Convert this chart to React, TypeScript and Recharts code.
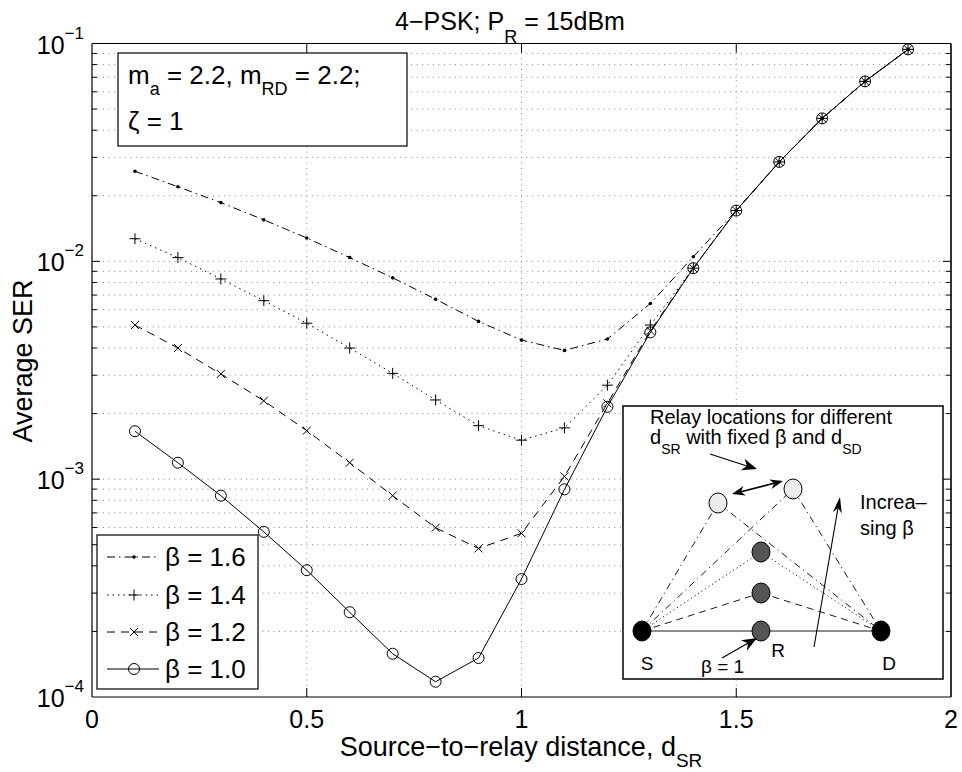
import React from "react";
import { LineChart, Line, XAxis, YAxis, ReferenceLine } from "recharts";

// source-to-relay distance d_SR
const DSR = [0.1, 0.2, 0.3, 0.4, 0.5, 0.6, 0.7, 0.8, 0.9, 1.0, 1.1, 1.2, 1.3, 1.4, 1.5, 1.6, 1.7, 1.8, 1.9];

// average SER per beta
const SER_B16 = [0.0259, 0.022, 0.0186, 0.0155, 0.0128, 0.0104, 0.0084, 0.0067, 0.0053, 0.00435, 0.0039, 0.0044, 0.0064, 0.0105, 0.0171, 0.0286, 0.0453, 0.067, 0.094];
const SER_B14 = [0.0127, 0.0104, 0.0083, 0.0066, 0.0052, 0.004, 0.00306, 0.00231, 0.00176, 0.00151, 0.00172, 0.0027, 0.0051, 0.0093, 0.0171, 0.0286, 0.0453, 0.067, 0.094];
const SER_B12 = [0.0051, 0.004, 0.00304, 0.00229, 0.00167, 0.00119, 0.00084, 0.000598, 0.000481, 0.000564, 0.00103, 0.00223, 0.0048, 0.0093, 0.0171, 0.0286, 0.0453, 0.067, 0.094];
const SER_B10 = [0.00166, 0.00119, 0.00084, 0.000573, 0.000382, 0.000245, 0.000158, 0.0001175, 0.000151, 0.000348, 0.000898, 0.00215, 0.00472, 0.0093, 0.0171, 0.0286, 0.0453, 0.067, 0.094];

const X_TICKS = [0, 0.5, 1, 1.5, 2];
const X_GRID = [0.5, 1, 1.5];
const Y_TICKS = [1e-4, 1e-3, 1e-2, 1e-1];
const Y_MAJOR_INNER = [1e-3, 1e-2];
const Y_MINOR = [
  2e-4, 3e-4, 4e-4, 5e-4, 6e-4, 7e-4, 8e-4, 9e-4,
  2e-3, 3e-3, 4e-3, 5e-3, 6e-3, 7e-3, 8e-3, 9e-3,
  2e-2, 3e-2, 4e-2, 5e-2, 6e-2, 7e-2, 8e-2, 9e-2,
];
const LEGEND_LABELS = ["β = 1.6", "β = 1.4", "β = 1.2", "β = 1.0"];

const data = DSR.map((d, i) => ({ d, b16: SER_B16[i], b14: SER_B14[i], b12: SER_B12[i], b10: SER_B10[i] }));

const FONT = "'Liberation Sans', Arial, Helvetica, sans-serif";
const GRID = "#8a8a8a";

type Mk = "dot" | "plus" | "x" | "o";

function marker(kind: Mk, cx: number, cy: number, key?: string) {
  if (kind === "dot") return <circle key={key} cx={cx} cy={cy} r={1.8} fill="#000" />;
  if (kind === "plus")
    return <path key={key} d={`M${cx - 5.5},${cy}H${cx + 5.5}M${cx},${cy - 5.5}V${cy + 5.5}`} stroke="#000" strokeWidth={1} fill="none" />;
  if (kind === "x")
    return <path key={key} d={`M${cx - 4},${cy - 4}L${cx + 4},${cy + 4}M${cx - 4},${cy + 4}L${cx + 4},${cy - 4}`} stroke="#000" strokeWidth={1} fill="none" />;
  return <circle key={key} cx={cx} cy={cy} r={5.5} fill="none" stroke="#000" strokeWidth={1} />;
}

const SERIES: { key: string; mk: Mk; dash?: string }[] = [
  { key: "b16", mk: "dot", dash: "8 4 1.5 4" },
  { key: "b14", mk: "plus", dash: "1.5 4" },
  { key: "b12", mk: "x", dash: "8 6" },
  { key: "b10", mk: "o" },
];

const YTick = (p: any) => {
  const exp = Math.round(Math.log10(p.payload.value));
  return (
    <text x={p.x} y={p.y + 10} textAnchor="end" fontSize={25} fontFamily={FONT} fill="#000">
      10
      <tspan dy={-15} fontSize={17}>{`−${-exp}`}</tspan>
    </text>
  );
};

const XTick = (p: any) => (
  <text x={p.x} y={p.y + 31} textAnchor="middle" fontSize={25} fontFamily={FONT} fill="#000">
    {String(p.payload.value)}
  </text>
);

function head(x1: number, y1: number, x2: number, y2: number, len = 15, w = 6) {
  const a = Math.atan2(y2 - y1, x2 - x1);
  const c = Math.cos(a), s = Math.sin(a);
  const bx = x2 - len * c, by = y2 - len * s;
  const mx = x2 - len * 0.7 * c, my = y2 - len * 0.7 * s;
  return `${x2},${y2} ${bx - s * w},${by + c * w} ${mx},${my} ${bx + s * w},${by - c * w}`;
}

function Inset() {
  const S = [642, 631], D = [881, 631], R = [761, 631];
  const n12 = [761, 593], n14 = [761, 552], n16a = [718, 503], n16b = [793, 489];
  const seg = (a: number[], b: number[], dash?: string, w = 0.9) => (
    <path d={`M${a[0]},${a[1]}L${b[0]},${b[1]}`} stroke="#000" strokeWidth={w} strokeDasharray={dash} fill="none" />
  );
  return (
    <g fontFamily={FONT} fill="#000">
      <rect x={623} y={406} width={320} height={273} fill="#fff" stroke="#000" strokeWidth={1.5} />
      <text x={650} y={424} fontSize={20}>Relay locations for different</text>
      <text x={650} y={444} fontSize={20}>
        d<tspan dy={10} fontSize={14}>SR</tspan>
        <tspan dy={-10}> with fixed β and d</tspan>
        <tspan dy={10} fontSize={14}>SD</tspan>
      </text>
      {seg([710, 454], [750, 467], undefined, 1.2)}
      <polygon points={head(710, 454, 757, 469)} fill="#000" />
      {seg([740, 492], [775, 483], undefined, 1.6)}
      <polygon points={head(775, 483, 732, 494, 13, 5)} fill="#000" />
      <polygon points={head(740, 492, 783, 481, 13, 5)} fill="#000" />
      {seg(S, D)}
      {seg(S, n12, "7 5")}
      {seg(n12, D, "7 5")}
      {seg(S, n14, "1.2 3")}
      {seg(n14, D, "1.2 3")}
      {seg(S, n16a, "7 4 1.2 4")}
      {seg(n16a, D, "7 4 1.2 4")}
      {seg(S, n16b, "7 4 1.2 4")}
      {seg(n16b, D, "7 4 1.2 4")}
      {seg([814, 647], [838, 508], undefined, 1.1)}
      <polygon points={head(814, 647, 840, 497, 16, 4.5)} fill="#000" />
      <ellipse cx={S[0]} cy={S[1]} rx={9} ry={10} fill="#000" stroke="#000" />
      <ellipse cx={D[0]} cy={D[1]} rx={9} ry={10} fill="#000" stroke="#000" />
      <ellipse cx={R[0]} cy={R[1]} rx={9} ry={10} fill="#555" stroke="#000" />
      <ellipse cx={n12[0]} cy={n12[1]} rx={9} ry={10} fill="#555" stroke="#000" />
      <ellipse cx={n14[0]} cy={n14[1]} rx={9} ry={10} fill="#555" stroke="#000" />
      <ellipse cx={n16a[0]} cy={n16a[1]} rx={9} ry={10} fill="#ececec" stroke="#000" />
      <ellipse cx={n16b[0]} cy={n16b[1]} rx={9} ry={10} fill="#ececec" stroke="#000" />
      {seg([722, 658], [750, 642], undefined, 1.2)}
      <polygon points={head(722, 658, 757, 638)} fill="#000" />
      <text x={647} y={670} fontSize={19} textAnchor="middle">S</text>
      <text x={778} y={657} fontSize={19} textAnchor="middle">R</text>
      <text x={889} y={670} fontSize={19} textAnchor="middle">D</text>
      <text x={701} y={673} fontSize={19}>β = 1</text>
      <text x={860} y={509} fontSize={20}>Increa–</text>
      <text x={860} y={535} fontSize={20}>sing β</text>
    </g>
  );
}

function Overlay() {
  const rows = [557, 595, 632, 669];
  return (
    <svg width={962} height={772} style={{ position: "absolute", left: 0, top: 0, pointerEvents: "none" }}>
      <g fontFamily={FONT} fill="#000">
        <text x={510} y={30} fontSize={25} textAnchor="middle">
          4−PSK; P<tspan dy={13} fontSize={18}>R</tspan>
          <tspan dy={-13}> = 15dBm</tspan>
        </text>
        <text x={521} y={756} fontSize={27} textAnchor="middle">
          Source−to−relay distance, d<tspan dy={11} fontSize={19}>SR</tspan>
        </text>
        <text transform="translate(32,361) rotate(-90)" fontSize={27} textAnchor="middle">Average SER</text>

        <rect x={118} y={53} width={289} height={93} fill="#fff" stroke="#000" strokeWidth={1.2} />
        <text x={128} y={84} fontSize={26}>
          m<tspan dy={11} fontSize={18}>a</tspan>
          <tspan dy={-11}> = 2.2, m</tspan>
          <tspan dy={11} fontSize={18}>RD</tspan>
          <tspan dy={-11}> = 2.2;</tspan>
        </text>
        <text x={128} y={130} fontSize={26}>ζ = 1</text>

        <rect x={97} y={535} width={161} height={154} fill="#fff" stroke="#000" strokeWidth={1.2} />
        {SERIES.map((s, i) => (
          <g key={s.key}>
            <path d={`M107,${rows[i]}H159`} stroke="#000" strokeWidth={1} strokeDasharray={s.dash} fill="none" />
            {marker(s.mk, 134, rows[i])}
            <text x={165} y={rows[i] + 9} fontSize={26}>{LEGEND_LABELS[i]}</text>
          </g>
        ))}
      </g>
      <Inset />
    </svg>
  );
}

export default function App() {
  const k = 1.0997;
  return (
    <div style={{ position: "absolute", left: 0, top: 0, width: 962, height: 772, background: "#fff" }}>
      <LineChart width={962} height={772} data={data} margin={{ top: 43.5, right: 11, bottom: 45, left: 12 }}>
        <XAxis
          dataKey="d"
          type="number"
          domain={[0, 2]}
          ticks={X_TICKS}
          tick={XTick}
          tickSize={0}
          tickMargin={0}
          tickLine={false}
          height={30}
          axisLine={{ stroke: "#000", strokeWidth: 1.2 }}
          allowDataOverflow
        />
        <YAxis
          type="number"
          scale="log"
          domain={[1e-4, 1e-1]}
          ticks={Y_TICKS}
          tick={YTick}
          tickSize={0}
          tickMargin={8}
          tickLine={false}
          width={80}
          axisLine={{ stroke: "#000", strokeWidth: 1.2 }}
          allowDataOverflow
        />
        {Y_MINOR.concat(Y_MAJOR_INNER).map((v) => (
          <ReferenceLine key={`g${v}`} y={v} stroke={GRID} strokeDasharray="1 4.5" />
        ))}
        {X_GRID.map((v) => (
          <ReferenceLine key={`gx${v}`} x={v} stroke={GRID} strokeDasharray="1 4.5" />
        ))}
        {Y_MINOR.map((v) => (
          <ReferenceLine key={`tl${v}`} segment={[{ x: 0, y: v }, { x: 0.0116, y: v }]} stroke="#000" />
        ))}
        {Y_MINOR.map((v) => (
          <ReferenceLine key={`tr${v}`} segment={[{ x: 2 - 0.0116, y: v }, { x: 2, y: v }]} stroke="#000" />
        ))}
        {Y_MAJOR_INNER.map((v) => (
          <ReferenceLine key={`ml${v}`} segment={[{ x: 0, y: v }, { x: 0.0186, y: v }]} stroke="#000" />
        ))}
        {Y_MAJOR_INNER.map((v) => (
          <ReferenceLine key={`mr${v}`} segment={[{ x: 2 - 0.0186, y: v }, { x: 2, y: v }]} stroke="#000" />
        ))}
        {X_GRID.map((v) => (
          <ReferenceLine key={`xb${v}`} segment={[{ x: v, y: 1e-4 }, { x: v, y: 1e-4 * k }]} stroke="#000" />
        ))}
        {X_GRID.map((v) => (
          <ReferenceLine key={`xt${v}`} segment={[{ x: v, y: 0.1 }, { x: v, y: 0.1 / k }]} stroke="#000" />
        ))}
        <ReferenceLine y={0.1} stroke="#000" strokeWidth={1.2} />
        <ReferenceLine x={2} stroke="#000" strokeWidth={1.6} />
        {SERIES.map((s) => (
          <Line
            key={s.key}
            dataKey={s.key}
            stroke="#000"
            strokeWidth={1}
            strokeDasharray={s.dash}
            dot={(p: any) => marker(s.mk, p.cx, p.cy, `${s.key}-${p.index}`)}
            activeDot={false}
            isAnimationActive={false}
          />
        ))}
      </LineChart>
      <Overlay />
    </div>
  );
}
